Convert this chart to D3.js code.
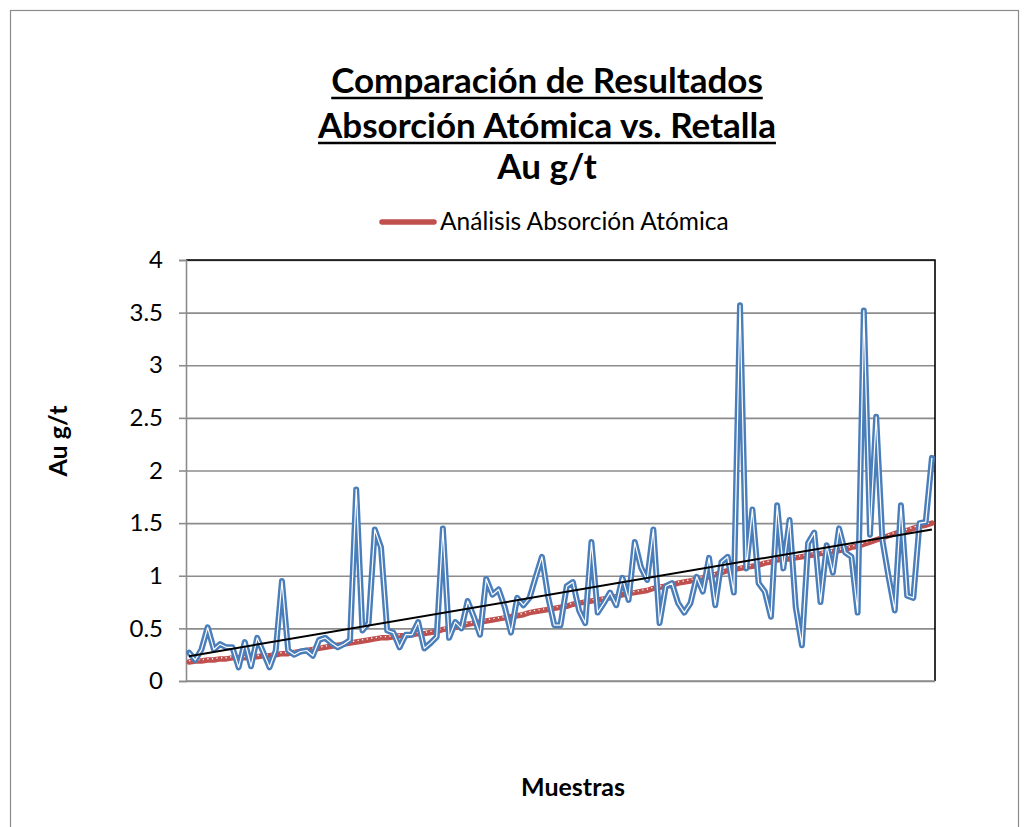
<!DOCTYPE html>
<html>
<head>
<meta charset="utf-8">
<script src="https://cdn.jsdelivr.net/npm/d3@7"></script>
<style>
  body { margin: 0; background: #fff; }
  text { font-family: Lato, "Open Sans", sans-serif; fill: #000; }
</style>
</head>
<body>
<div id="chart"></div>
<script>
'use strict';

const w = 1029;
const h = 827;

const titleLines = ["Comparación de Resultados", "Absorción Atómica vs. Retalla", "Au g/t"];
const legendLabel = "Análisis Absorción Atómica";
const yLabel = "Au g/t";
const xLabel = "Muestras";
const yTicks = [0, 0.5, 1, 1.5, 2, 2.5, 3, 3.5, 4];

// Retalla (blue line)
const retalla = [
  0.27, 0.20, 0.30, 0.51, 0.30, 0.35, 0.32, 0.32, 0.13, 0.37,
  0.14, 0.41, 0.27, 0.13, 0.29, 0.95, 0.29, 0.25, 0.28, 0.29,
  0.24, 0.39, 0.41, 0.36, 0.32, 0.35, 0.39, 1.82, 0.48, 0.55,
  1.44, 1.27, 0.48, 0.46, 0.32, 0.44, 0.44, 0.56, 0.31, 0.36,
  0.42, 1.45, 0.41, 0.56, 0.50, 0.76, 0.61, 0.44, 0.97, 0.82,
  0.87, 0.70, 0.46, 0.79, 0.72, 0.79, 0.99, 1.18, 0.80, 0.53,
  0.53, 0.90, 0.94, 0.67, 0.55, 1.32, 0.65, 0.74, 0.84, 0.72,
  0.98, 0.77, 1.32, 1.08, 0.96, 1.44, 0.55, 0.90, 0.93, 0.74,
  0.65, 0.74, 0.99, 0.85, 1.17, 0.72, 1.13, 1.18, 0.84, 3.57,
  1.07, 1.63, 0.93, 0.85, 0.61, 1.67, 1.07, 1.53, 0.70, 0.34,
  1.31, 1.41, 0.75, 1.29, 1.03, 1.45, 1.22, 1.18, 0.65, 3.52,
  1.39, 2.51, 1.34, 0.99, 0.67, 1.67, 0.81, 0.79, 1.50, 1.51,
  2.12
];

// Análisis Absorción Atómica (red line), samples sorted ascending
const absorcion = [
  0.18, 0.19, 0.19, 0.20, 0.20, 0.21, 0.21, 0.22,
  0.22, 0.22, 0.23, 0.23, 0.24, 0.24, 0.25, 0.26,
  0.26, 0.27, 0.28, 0.29, 0.30, 0.31, 0.32, 0.33,
  0.34, 0.35, 0.36, 0.37, 0.38, 0.39, 0.40, 0.41,
  0.41, 0.42, 0.43, 0.43, 0.44, 0.45, 0.45, 0.46,
  0.47, 0.49, 0.50, 0.51, 0.52, 0.54, 0.55,
  0.56, 0.57, 0.58, 0.59, 0.60, 0.61, 0.62, 0.63, 0.65,
  0.66, 0.67, 0.68, 0.69, 0.70, 0.71, 0.73, 0.74,
  0.75, 0.76, 0.77, 0.78, 0.79, 0.80, 0.82, 0.83,
  0.84, 0.85, 0.86, 0.88, 0.89, 0.90, 0.91, 0.93,
  0.94, 0.95, 0.97, 0.98, 0.99, 1.01, 1.03, 1.05,
  1.06, 1.07, 1.08, 1.09, 1.10, 1.12, 1.13, 1.15,
  1.16, 1.16, 1.17, 1.18, 1.19, 1.20, 1.21, 1.22,
  1.23, 1.24, 1.25, 1.27, 1.28, 1.30, 1.32, 1.34,
  1.36, 1.38, 1.40, 1.42, 1.43, 1.45, 1.47, 1.48, 1.50
];

const samples = retalla.map((d, i) => i + 1);

const blue = "#4a7ebb";
const red = "#c0504d";
const gridColor = "#8c8c8c";

const plot = { left: 186, right: 935, top: 260, bottom: 681 };

const svg = d3.select("#chart").append("svg").
attr("width", w).
attr("height", h);

//Outer chart border
svg.append("rect").
attr("x", 10.5).attr("y", 10.5).
attr("width", 1008).attr("height", 840).
attr("fill", "none").
attr("stroke", "#8c8c8c").
attr("stroke-width", 1.2);

const x = d3.scalePoint().
domain(samples).
range([plot.left, plot.right]).
padding(0.5);

const y = d3.scaleLinear().
domain([0, 4]).
range([plot.bottom, plot.top]);

//Gridlines
svg.append("g").
attr("transform", `translate(${plot.left},0)`).
call(d3.axisLeft(y).tickValues(yTicks).tickSize(-(plot.right - plot.left)).tickFormat("")).
call(g => g.select(".domain").remove()).
call(g => g.selectAll("line").attr("stroke", gridColor).attr("stroke-width", 1.6));

//Plot area border (top/right black)
svg.append("path").
attr("d", `M${plot.left},${plot.top}H${plot.right}V${plot.bottom}`).
attr("fill", "none").
attr("stroke", "#000").
attr("stroke-width", 1.6);

//Y axis
svg.append("g").
attr("transform", `translate(${plot.left},0)`).
call(d3.axisLeft(y).tickValues(yTicks).tickSize(7).tickPadding(16).tickFormat(d => String(d))).
call(g => g.select(".domain").attr("stroke", gridColor).attr("stroke-width", 1.6)).
call(g => g.selectAll("line").attr("stroke", gridColor).attr("stroke-width", 1.6)).
call(g => g.selectAll("text").attr("font-size", 24).attr("font-family", "Lato, 'Open Sans', sans-serif").attr("fill", "#000"));

//X axis line (no labels)
svg.append("line").
attr("x1", plot.left).attr("x2", plot.right).
attr("y1", plot.bottom).attr("y2", plot.bottom).
attr("stroke", gridColor).
attr("stroke-width", 1.6);

//Lines
const line = d3.line().
x((d, i) => x(samples[i])).
y(d => y(d));

//Red: thick red with a white dotted stroke riding on top
svg.append("path").
attr("d", line(absorcion)).
attr("fill", "none").
attr("stroke", red).
attr("stroke-width", 5.5).
attr("stroke-linejoin", "round").
attr("stroke-linecap", "round");

svg.append("path").
attr("d", line(absorcion)).
attr("transform", "translate(0,-1.2)").
attr("fill", "none").
attr("stroke", "#fff").
attr("stroke-width", 1.4).
attr("stroke-dasharray", "1.2,3.4");

//Blue: thick blue with a thin white core
svg.append("path").
attr("d", line(retalla)).
attr("fill", "none").
attr("stroke", blue).
attr("stroke-width", 6).
attr("stroke-linejoin", "round").
attr("stroke-linecap", "round");

svg.append("path").
attr("d", line(retalla)).
attr("fill", "none").
attr("stroke", "#fff").
attr("stroke-width", 1.2).
attr("stroke-linejoin", "round");

//Linear trend of the Retalla series
const n = retalla.length;
const mx = d3.mean(samples);
const my = d3.mean(retalla);
const slope = d3.sum(samples, (s, i) => (s - mx) * (retalla[i] - my)) / d3.sum(samples, s => (s - mx) * (s - mx));
const icpt = my - slope * mx;

svg.append("line").
attr("x1", x(samples[0])).attr("y1", y(icpt + slope * samples[0])).
attr("x2", x(samples[n - 1])).attr("y2", y(icpt + slope * samples[n - 1])).
attr("stroke", "#000").
attr("stroke-width", 2);

//Title
const titleBase = [93, 138, 179];
titleLines.forEach((t, i) => {
  const txt = svg.append("text").
  attr("x", 547).
  attr("y", titleBase[i]).
  attr("text-anchor", "middle").
  attr("font-size", 35).
  attr("font-weight", "bold").
  text(t);
  if (i < 2) {
    const len = txt.node().getComputedTextLength();
    svg.append("line").
    attr("x1", 547 - len / 2).attr("x2", 547 + len / 2).
    attr("y1", titleBase[i] + 5).attr("y2", titleBase[i] + 5).
    attr("stroke", "#000").
    attr("stroke-width", 2.5);
  }
});

//Legend
svg.append("line").
attr("x1", 382).attr("x2", 434).
attr("y1", 222).attr("y2", 222).
attr("stroke", red).
attr("stroke-width", 5.5).
attr("stroke-linecap", "round");

svg.append("text").
attr("x", 440).
attr("y", 230).
attr("font-size", 24.5).
text(legendLabel);

//Axis titles
svg.append("text").
attr("transform", "translate(67,441) rotate(-90)").
attr("text-anchor", "middle").
attr("font-size", 25).
attr("font-weight", "bold").
text(yLabel);

svg.append("text").
attr("x", 573).
attr("y", 796).
attr("text-anchor", "middle").
attr("font-size", 25).
attr("font-weight", "bold").
text(xLabel);
</script>
</body>
</html>
